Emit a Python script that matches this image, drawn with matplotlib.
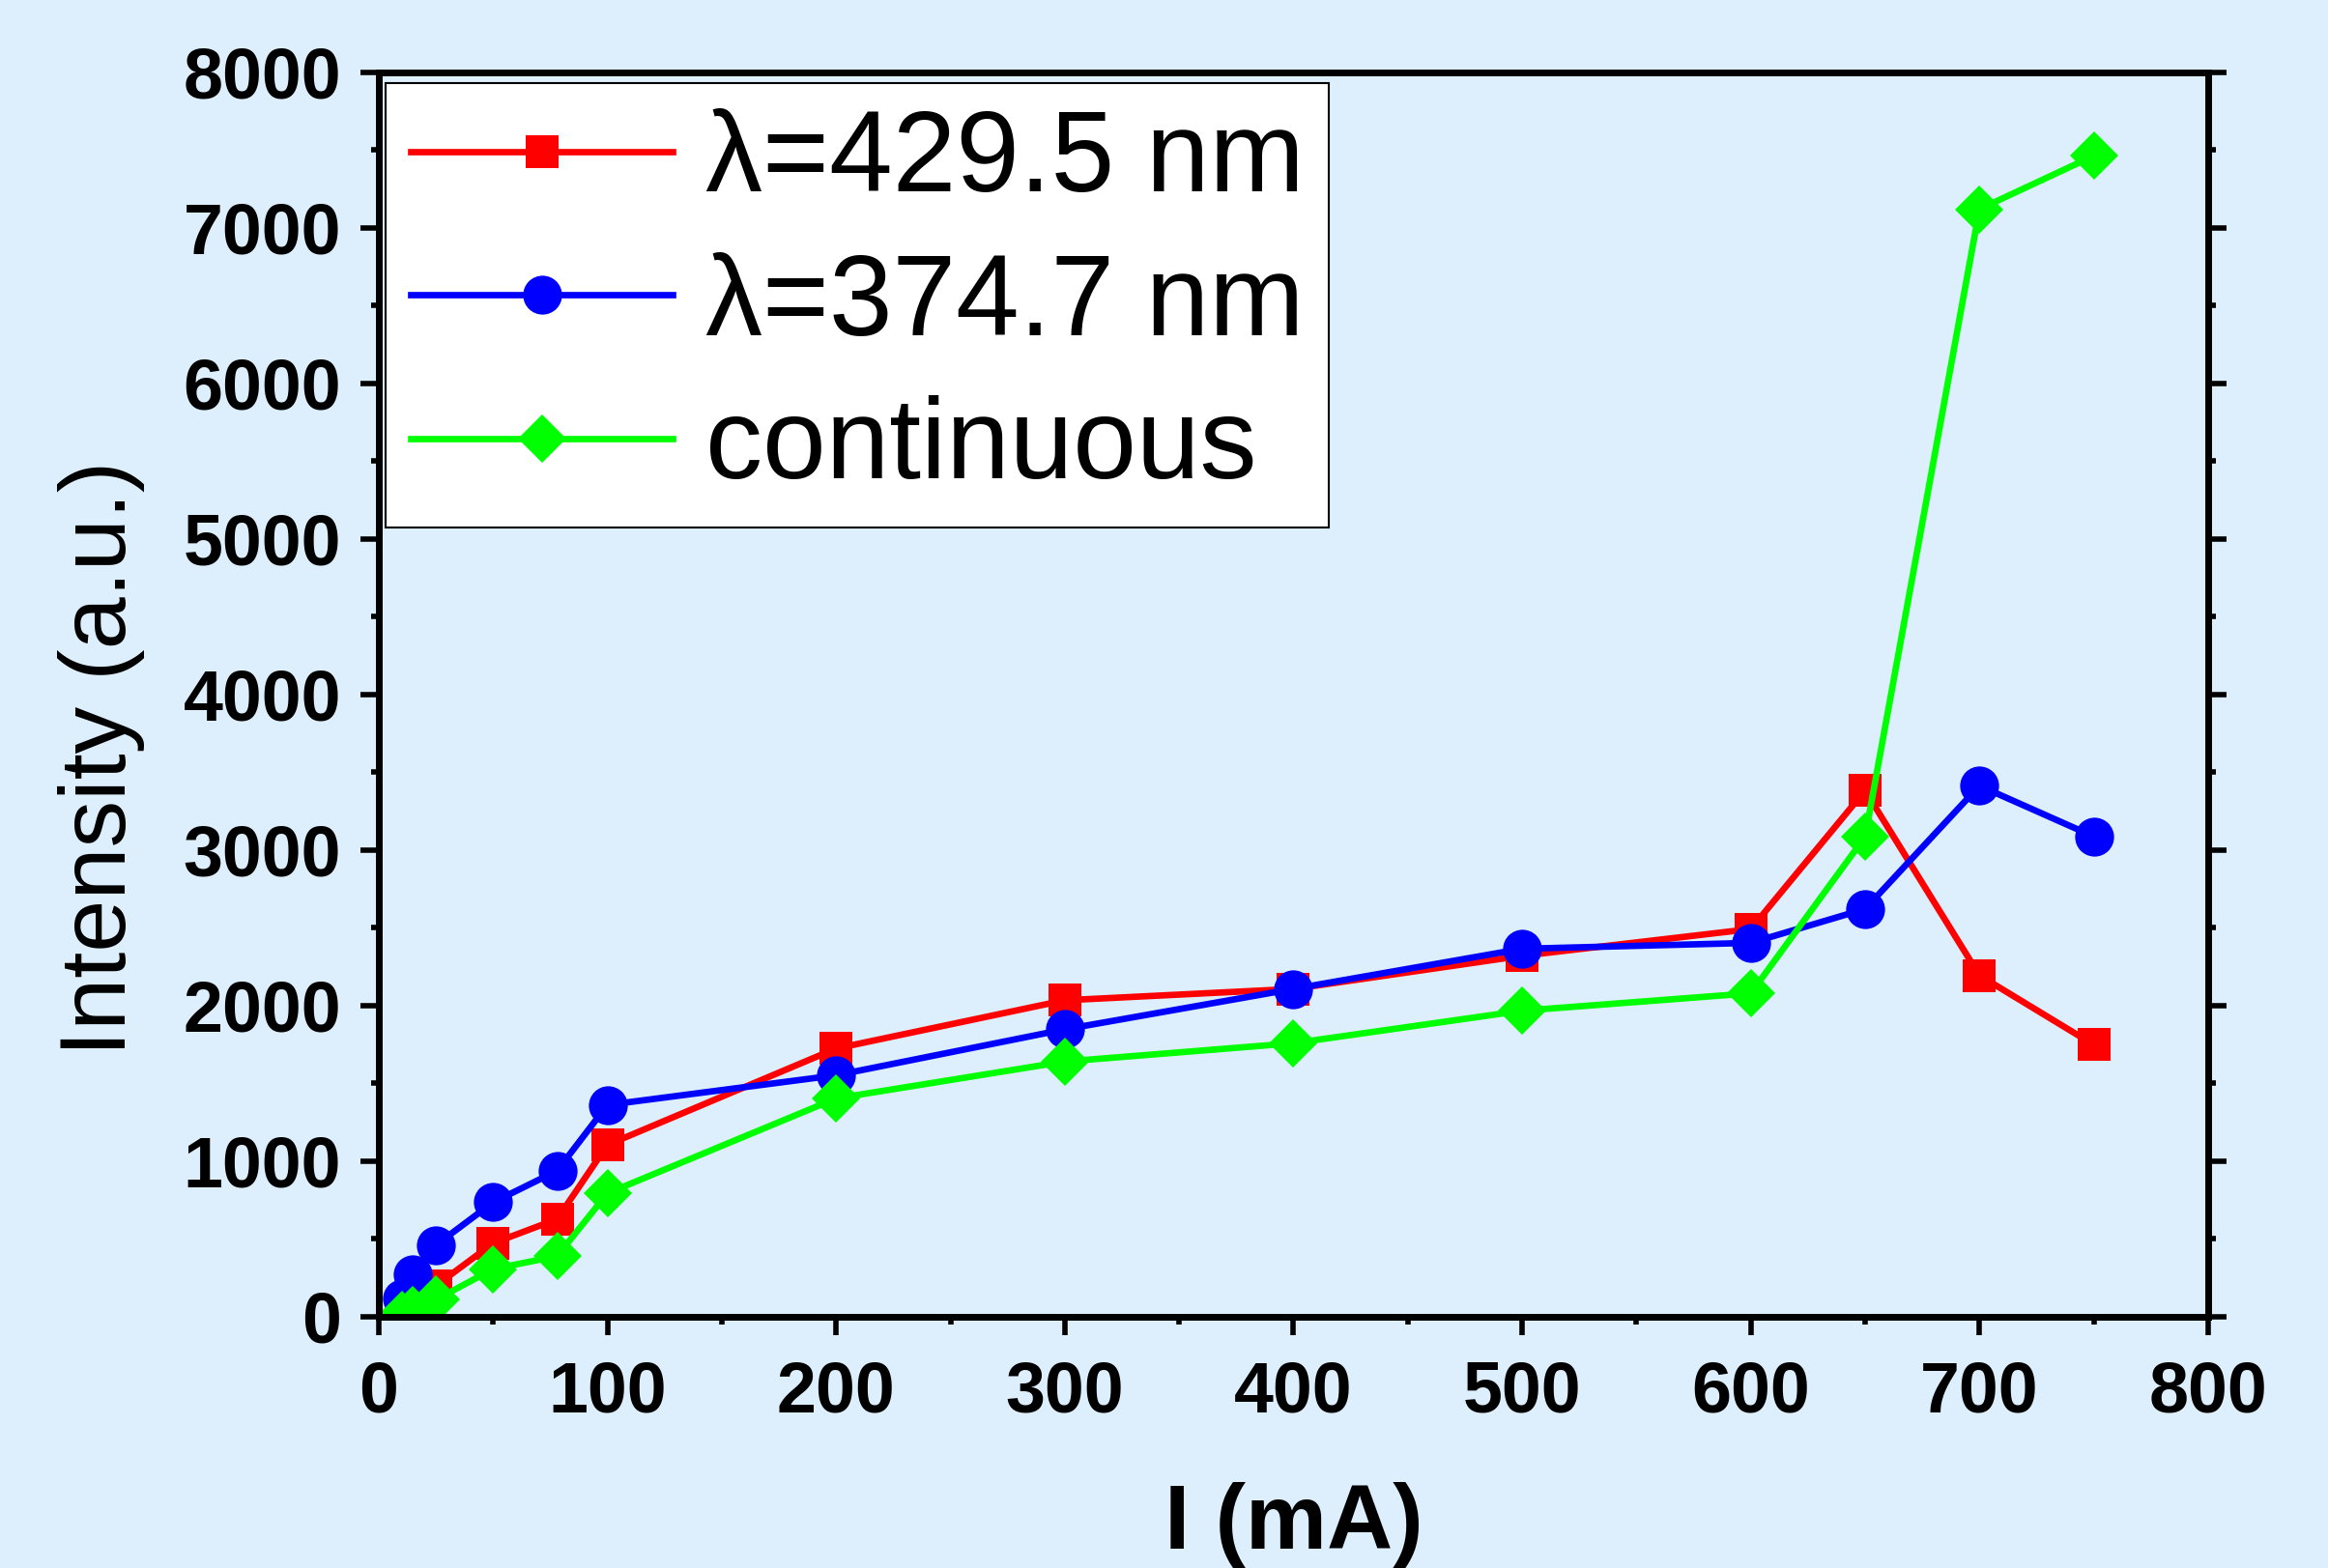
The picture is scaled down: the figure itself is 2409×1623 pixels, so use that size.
import matplotlib
matplotlib.use('Agg')
from matplotlib import pyplot as plt
from matplotlib.ticker import MultipleLocator

plt.rcParams['font.family'] = ['Liberation Sans', 'DejaVu Sans']

# currents (mA)
current = [10, 15, 25, 50, 78, 100, 200, 300, 400, 500, 600, 650, 700, 750]

# intensities (a.u.)
red_429 = [70, 120, 200, 473, 628, 1105, 1725, 2035, 2108, 2321, 2493, 3383, 2195, 1749]
blue_374 = [116, 272, 461, 736, 939, 1362, 1553, 1848, 2108, 2366, 2404, 2622, 3414, 3088]
green_cont = [12, 44, 110, 307, 390, 794, 1404, 1641, 1759, 1968, 2080, 3086, 7121, 7464]

labels = ['λ=429.5 nm', 'λ=374.7 nm', 'continuous']
bg = '#ddeefc'

fig = plt.figure(figsize=(24.09, 16.23), dpi=100, facecolor=bg)
ax = fig.add_axes([0.1627, 0.1602, 0.7858, 0.7936])
ax.set_facecolor(bg)

ax.plot(current, red_429, color='#ff0000', lw=4.8, marker='s', ms=25,
        mec='#ff0000', mew=0, label=labels[0])
ax.plot(current, blue_374, color='#0000ff', lw=4.8, marker='o', ms=29,
        mec='#0000ff', mew=0, label=labels[1])
ax.plot(current, green_cont, color='#00ff00', lw=4.8, marker='D', ms=25,
        mec='#00ff00', mew=0, label=labels[2])

ax.set_xlim(0, 800)
ax.set_ylim(0, 8000)
ax.xaxis.set_major_locator(MultipleLocator(100))
ax.xaxis.set_minor_locator(MultipleLocator(50))
ax.yaxis.set_major_locator(MultipleLocator(1000))
ax.yaxis.set_minor_locator(MultipleLocator(500))

for s in ax.spines.values():
    s.set_linewidth(5)
ax.tick_params(which='both', direction='out', width=4, top=False,
               right=True, labelright=False)
ax.tick_params(which='major', length=14)
ax.tick_params(which='minor', length=6)
ax.tick_params(axis='y', which='major', pad=14)
ax.tick_params(axis='x', which='major', pad=18)

for lab in ax.get_xticklabels() + ax.get_yticklabels():
    lab.set_fontsize(53)
    lab.set_fontweight('bold')

ax.set_xlabel('I (mA)', fontsize=68, fontweight='bold')
ax.set_ylabel('Intensity (a.u.)', fontsize=70)
ax.xaxis.set_label_coords(0.5, -0.133)
ax.yaxis.set_label_coords(-0.128, 0.449)

leg = ax.legend(loc='upper left', bbox_to_anchor=(0.0037, 0.9915),
                borderaxespad=0, fontsize=85, fancybox=False,
                handlelength=2.3, handletextpad=0.28, labelspacing=0.32,
                borderpad=0.22, framealpha=1)
leg.get_frame().set_edgecolor('black')
leg.get_frame().set_linewidth(1.5)

plt.savefig('out.png', dpi=100, facecolor=bg)
